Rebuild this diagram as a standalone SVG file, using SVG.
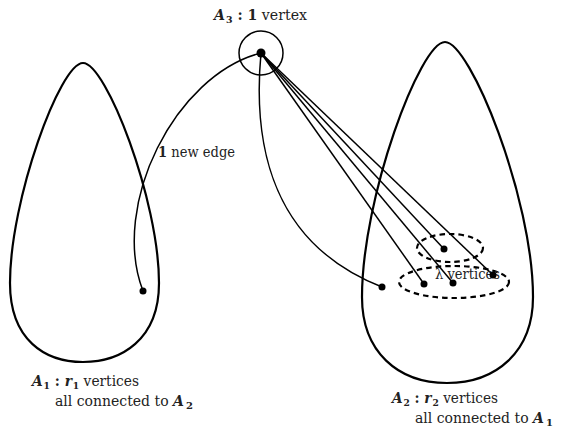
<svg xmlns="http://www.w3.org/2000/svg" width="561" height="429" viewBox="0 0 561 429">
<style>
.set{fill:none;stroke:#000;stroke-width:2.2}
.edge{fill:none;stroke:#000;stroke-width:1.5}
.dash{fill:none;stroke:#000;stroke-width:2.2;stroke-dasharray:5.5 4}
.dot{fill:#000}
.t{font-family:'DejaVu Serif',serif;font-size:15px;fill:#222}
.s{font-size:14px}
.b{font-weight:bold}
.bi{font-weight:bold;font-style:italic}
.sub{font-size:10px;font-weight:bold}
</style>
<rect width="561" height="429" fill="#fff"/>
<g id="connectors">
<path class="edge" d="M261,53 C175,75 110,205 143,291"/>
<path class="edge" d="M261,53 C252,150 275,245 382,287"/>
<line class="edge" x1="261" y1="53" x2="444" y2="249"/>
<line class="edge" x1="261" y1="53" x2="424" y2="284"/>
<line class="edge" x1="261" y1="53" x2="453" y2="283"/>
<line class="edge" x1="261" y1="53" x2="493" y2="275"/>
<text class="t" x="158" y="157" textLength="77" lengthAdjust="spacingAndGlyphs"><tspan class="b">1</tspan> new edge</text>
</g>
<g id="setA1">
<path class="set" d="M83,63 C60,63 10,200 10,283 C10,340 45,362 83,362 C121,362 159,340 159,283 C159,200 106,63 83,63 Z"/>
<text class="t" x="32" y="386" textLength="107" lengthAdjust="spacingAndGlyphs"><tspan class="bi">A</tspan><tspan class="sub" dx="1" dy="3">1</tspan><tspan class="b" dy="-3"> : </tspan><tspan class="bi">r</tspan><tspan class="sub" dx="1" dy="3">1</tspan><tspan dy="-3"> vertices</tspan></text>
<text class="t s" x="55" y="406">all connected to <tspan class="bi">A</tspan><tspan class="sub" dx="2" dy="3">2</tspan></text>
</g>
<g id="setA2">
<path class="set" d="M445,42 C420,42 362,198 362,297 C362,352 398,383 447,383 C496,383 533,352 533,297 C533,198 470,42 445,42 Z"/>
<text class="t" x="392" y="403" textLength="106" lengthAdjust="spacingAndGlyphs"><tspan class="bi">A</tspan><tspan class="sub" dx="1" dy="3">2</tspan><tspan class="b" dy="-3"> : </tspan><tspan class="bi">r</tspan><tspan class="sub" dx="1" dy="3">2</tspan><tspan dy="-3"> vertices</tspan></text>
<text class="t s" x="415" y="423">all connected to <tspan class="bi">A</tspan><tspan class="sub" dx="2" dy="3">1</tspan></text>
</g>
<g id="lambda">
<ellipse class="dash" cx="450" cy="248" rx="33" ry="14"/>
<ellipse class="dash" cx="454" cy="282" rx="55" ry="16"/>
<text class="t" x="435" y="279" textLength="65" lengthAdjust="spacingAndGlyphs">λ vertices</text>
</g>
<g id="A3">
<circle cx="261" cy="53" r="22" fill="none" stroke="#000" stroke-width="1.5"/>
<circle class="dot" cx="261" cy="53" r="4.5"/>
<text class="t" x="214" y="20" textLength="93" lengthAdjust="spacingAndGlyphs"><tspan class="bi">A</tspan><tspan class="sub" dx="1" dy="3">3</tspan><tspan class="b" dy="-3"> : 1</tspan> vertex</text>
</g>
<g id="vertices">
<circle class="dot" cx="143" cy="291" r="3.5"/>
<circle class="dot" cx="382" cy="287" r="3.5"/>
<circle class="dot" cx="444" cy="249" r="3.5"/>
<circle class="dot" cx="424" cy="284" r="3.5"/>
<circle class="dot" cx="453" cy="283" r="3.5"/>
<circle class="dot" cx="493" cy="275" r="3.5"/>
</g>
</svg>
